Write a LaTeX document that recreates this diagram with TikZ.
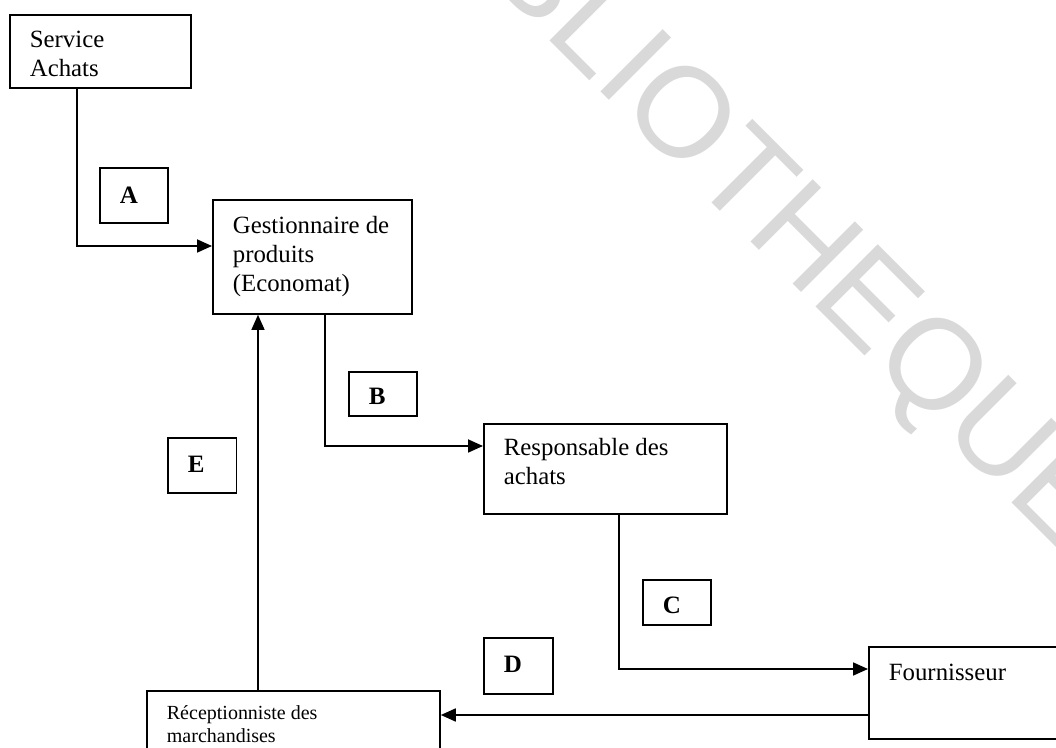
\documentclass[tikz,border=0pt]{standalone}
\usepackage{fontspec}
\setmainfont{Liberation Serif}
\newfontfamily\wmfont{Liberation Sans}
\usetikzlibrary{arrows.meta}
\begin{document}
\begin{tikzpicture}[x=0.5pt,y=-0.5pt,
  actor/.style={draw, line width=0.9pt, rectangle, anchor=north west,
    inner xsep=10pt, inner ysep=0pt, align=flush left,
    font=\fontsize{12.4}{14.5}\selectfont},
  small/.style={font=\fontsize{10}{11.2}\selectfont},
  tag/.style={draw, line width=0.9pt, rectangle, anchor=north west,
    inner xsep=10pt, inner ysep=0pt, align=flush left, text width=14pt,
    font=\fontsize{12.5}{14}\selectfont\bfseries},
  flow/.style={line width=0.9pt, -{Triangle[length=7.5pt,width=6.5pt]}},
  stamp/.style={anchor=base west, inner sep=0pt, rotate=-45, text=black!15,
    font=\wmfont\fontsize{64}{64}\selectfont},
]
\useasboundingbox (0,0) rectangle (1056,748);

% library stamp in the background
\begin{scope}
  \clip (0,0) rectangle (1056,748);
  \node[stamp] (wm) at (396,-113) {BIBLIOTHEQUE};
\end{scope}

% actors
\node[actor, text width=70.5pt, text height=16.5pt, text depth=20pt]
  (svc) at (9,14) {Service\\Achats};
\node[actor, text width=79.5pt, text height=17pt, text depth=40pt]
  (gest) at (212,199) {Gestionnaire de\\produits\\(Economat)};
\node[actor, text width=101.5pt, text height=16pt, text depth=29pt]
  (resp) at (483,423) {Responsable des\\achats};
\node[actor, text width=76pt, text height=16.75pt, text depth=29.25pt]
  (four) at (868,646) {Fournisseur};
\node[actor, small, text width=126.5pt, text height=14.5pt, text depth=20.5pt]
  (recep) at (146,690) {Réceptionniste des\\marchandises};

% flow tags
\node[tag, text height=18pt, text depth=9.75pt] (tA) at (99,167) {A};
\node[tag, text height=16.5pt, text depth=5.5pt] (tB) at (348,371) {B};
\node[tag, text height=17pt, text depth=5.5pt] (tC) at (642,579) {C};
\node[tag, text width=14.5pt, text height=17.5pt, text depth=10.5pt] (tD) at (483,637) {D};
\node[tag, text width=14.25pt, text height=17.25pt, text depth=10.25pt] (tE) at (167,437) {E};

% bends of the connectors
\coordinate (kA) at (77,246);
\coordinate (kB) at (325,446);
\coordinate (kC) at (619,669);
\coordinate (kD) at (0,715);
\coordinate (kE) at (258,0);

% connectors
\draw[flow] (svc.south -| kA) |- (kA -| gest.west);
\draw[flow] (gest.south -| kB) |- (kB -| resp.west);
\draw[flow] (resp.south -| kC) |- (kC -| four.west);
\draw[flow] (four.west |- kD) -- (recep.east |- kD);
\draw[flow, line width=0.6pt] (recep.north -| kE) -- (gest.south -| kE);
\end{tikzpicture}
\end{document}
